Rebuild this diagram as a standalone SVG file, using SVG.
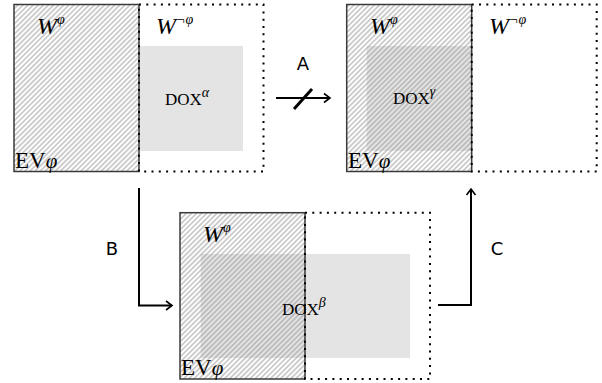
<svg xmlns="http://www.w3.org/2000/svg" width="602" height="383" viewBox="0 0 602 383">
<defs>
<pattern id="hatch" patternUnits="userSpaceOnUse" width="3.6" height="3.6" patternTransform="rotate(45)">
<line x1="1.8" y1="0" x2="1.8" y2="3.6" stroke="#8a8a8a" stroke-width="0.8"/>
</pattern>
<marker id="arr" viewBox="-8 -6 10 12" markerWidth="10" markerHeight="12" refX="0" refY="0" orient="auto" markerUnits="userSpaceOnUse">
<path d="M-6,-4.5 L0,0 L-6,4.5" fill="none" stroke="#000" stroke-width="1.6"/>
</marker>
</defs>
<style>
.gray{fill:#e4e4e4}
.hat{fill:url(#hatch);stroke:#3a3a3a;stroke-width:1.5}
.dot{fill:none;stroke:#000;stroke-width:2;stroke-dasharray:2 5.3}
.t{font-family:"Liberation Serif",serif;fill:#000}
.w{font-size:24px;font-style:italic}
.sup{font-size:14px;font-style:italic}
.dox{font-size:17px}
.ev{font-size:23px}
.lab{font-family:"DejaVu Sans",sans-serif;font-size:18px;fill:#000;text-anchor:middle}
.ln{fill:none;stroke:#000;stroke-width:2}
</style>
<rect x="0" y="0" width="602" height="383" fill="#fff"/>

<g id="panel-alpha">
<rect class="gray" x="139" y="46" width="104" height="105"/>
<rect class="hat" x="14" y="4.5" width="125" height="167"/>
<rect class="dot" x="139" y="4.5" width="124.5" height="167"/>
<text class="t w" x="37" y="34">W<tspan class="sup" dy="-10">φ</tspan></text>
<text class="t w" x="156" y="34">W<tspan class="sup" dy="-10" font-style="normal">¬</tspan><tspan class="sup">φ</tspan></text>
<text class="t dox" x="165" y="105">DOX<tspan class="sup" dy="-8">α</tspan></text>
<text class="t ev" x="15" y="168">EV<tspan font-style="italic" font-size="21">φ</tspan></text>
</g>

<g id="panel-gamma">
<rect class="gray" x="366.7" y="46" width="105" height="105"/>
<rect class="hat" x="346.7" y="4.5" width="125" height="167"/>
<rect class="dot" x="471.7" y="4.5" width="125" height="167"/>
<text class="t w" x="370" y="34">W<tspan class="sup" dy="-10">φ</tspan></text>
<text class="t w" x="489" y="34">W<tspan class="sup" dy="-10" font-style="normal">¬</tspan><tspan class="sup">φ</tspan></text>
<text class="t dox" x="393" y="104">DOX<tspan class="sup" dy="-8">γ</tspan></text>
<text class="t ev" x="348" y="168">EV<tspan font-style="italic" font-size="21">φ</tspan></text>
</g>

<g id="panel-beta">
<rect class="gray" x="200.7" y="254" width="209.3" height="104"/>
<rect class="hat" x="180" y="212.7" width="125" height="166.3"/>
<rect class="dot" x="305" y="212.7" width="125" height="166.3"/>
<text class="t w" x="203" y="242">W<tspan class="sup" dy="-10">φ</tspan></text>
<text class="t dox" x="282" y="315">DOX<tspan class="sup" dy="-8">β</tspan></text>
<text class="t ev" x="181" y="375">EV<tspan font-style="italic" font-size="21">φ</tspan></text>
</g>

<g id="connectors">
<line class="ln" x1="276" y1="98" x2="330" y2="98" marker-end="url(#arr)"/>
<line x1="294" y1="109" x2="312" y2="89" stroke="#000" stroke-width="3"/>
<text class="lab" x="303" y="70">A</text>
<path class="ln" d="M139,188 V305.5 H172" marker-end="url(#arr)"/>
<text class="lab" x="112" y="255">B</text>
<path class="ln" d="M438,305 H471 V189" marker-end="url(#arr)"/>
<text class="lab" x="497" y="255">C</text>
</g>
</svg>
